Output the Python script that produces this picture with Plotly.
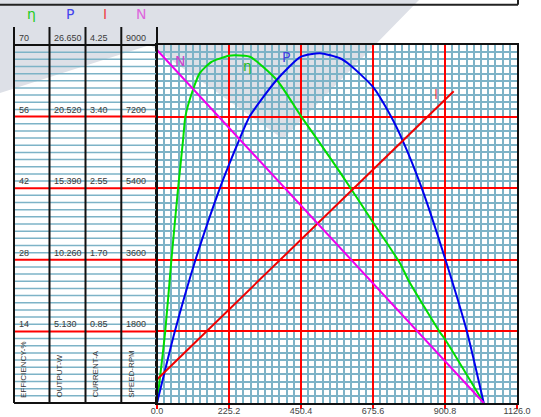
import plotly.graph_objects as go

# ---------------- data ----------------
torque_eff = [0, 25.6, 45, 66, 81.5, 89, 112.8, 133.8, 170.4, 224.6, 243.4, 290.4,
              374.1, 450.2, 546.4, 605.6, 674.9, 760.4, 786.4, 884.1, 900.4, 1022]
efficiency = [0, 13.9, 28, 42, 51.4, 56.1, 61.3, 64.5, 66.7, 67.9, 68.0, 67.7,
              63.2, 56.1, 47.5, 42.0, 35.4, 27.3, 24.0, 13.9, 12.5, 0]

torque_out = [0, 55.5, 120.3, 196.4, 224.6, 256.9, 290.4, 374.1, 450.2, 509.7,
              572.4, 603.7, 674.9, 731.1, 767.8, 828.4, 900.5, 969.5, 1022]
output_w = [0, 5.11, 10.25, 15.38, 17.05, 18.84, 20.56, 23.14, 24.81, 25.06,
            24.70, 24.22, 22.66, 20.56, 18.84, 15.38, 10.39, 5.11, 0]

torque_cur = [0, 928]
current_a = [0.28, 3.70]

torque_spd = [0, 1022]
speed_rpm = [8875, 0]

x_tick_vals = [0, 225.2, 450.4, 675.6, 900.8, 1126.0]
x_tick_text = ["0.0", "225.2", "450.4", "675.6", "900.8", "1126.0"]

eff_ticks = [14, 28, 42, 56, 70]
eff_labels = ["14", "28", "42", "56", "70"]
out_ticks = [5.13, 10.26, 15.39, 20.52, 25.65]
out_labels = ["5.130", "10.260", "15.390", "20.520", "26.650"]
cur_ticks = [0.85, 1.70, 2.55, 3.40, 4.25]
cur_labels = ["0.85", "1.70", "2.55", "3.40", "4.25"]
spd_ticks = [1800, 3600, 5400, 7200, 9000]
spd_labels = ["1800", "3600", "5400", "7200", "9000"]

column_titles = ["EFFICIENCY-%", "OUTPUT-W", "CURRENT-A", "SPEED-RPM"]
header_symbols = ["η", "P", "I", "N"]

# ---------------- styling ----------------
W, H = 541, 417
ML, MR, MT, MB = 157, 24, 45, 14
PW, PH = W - ML - MR, H - MT - MB

def px(xp):
    return (xp - ML) / PW

def py(yp):
    return (H - MB - yp) / PH

SANS = "Liberation Sans, Arial, sans-serif"
C_ETA, C_P, C_I, C_N = "#00dd00", "#0000ee", "#ee0000", "#ee00ee"
MINOR = "#7db3c7"
RED = "#ff0000"

fig = go.Figure()
fig.add_trace(go.Scatter(x=torque_eff, y=efficiency, mode="lines", yaxis="y",
                         line=dict(color=C_ETA, width=2, shape="spline", smoothing=0.6)))
fig.add_trace(go.Scatter(x=torque_out, y=output_w, mode="lines", yaxis="y2",
                         line=dict(color=C_P, width=2, shape="spline", smoothing=0.6)))
fig.add_trace(go.Scatter(x=torque_cur, y=current_a, mode="lines", yaxis="y3",
                         line=dict(color=C_I, width=2)))
fig.add_trace(go.Scatter(x=torque_spd, y=speed_rpm, mode="lines", yaxis="y4",
                         line=dict(color=C_N, width=2)))

shapes = []
# watermark
wm = [(0, 0), (419, 0), (283, 139), (150, 45), (0, 93)]
path = "M " + " L ".join(f"{px(a):.4f},{py(b):.4f}" for a, b in wm) + " Z"
shapes.append(dict(type="path", path=path, xref="paper", yref="paper",
                   fillcolor="#dde0e7", line=dict(width=0), layer="below"))

col_x = [14, 49.5, 85.5, 121.3, 157]
# left panel fine lines
k = 1
while k < 50:
    if k % 10 != 0:
        shapes.append(dict(type="line", xref="paper", yref="y", x0=px(col_x[0]), x1=0,
                           y0=k * 1.4, y1=k * 1.4, line=dict(color=MINOR, width=1.5)))
    k += 1
for v in eff_ticks[:-1]:
    shapes.append(dict(type="line", xref="paper", yref="y", x0=px(col_x[0]), x1=0,
                       y0=v, y1=v, line=dict(color=RED, width=2)))
# column lines
for cx in col_x:
    shapes.append(dict(type="line", xref="paper", yref="paper", x0=px(cx), x1=px(cx),
                       y0=0, y1=py(27), line=dict(color="#111", width=2)))
for yy in (0, 1):
    shapes.append(dict(type="line", xref="paper", yref="paper", x0=px(col_x[0]), x1=0,
                       y0=yy, y1=yy, line=dict(color="#111", width=2)))
# top box edge
shapes.append(dict(type="line", xref="paper", yref="paper", x0=px(-2), x1=px(518),
                   y0=py(4.7), y1=py(4.7), line=dict(color="#222", width=2)))
shapes.append(dict(type="line", xref="paper", yref="paper", x0=px(518), x1=px(518),
                   y0=py(-2), y1=py(4.7), line=dict(color="#222", width=2)))

ann = []
lab_font = dict(family=SANS, size=9, color="#3a3a3a")
for refy, ticks, labels, cx in (("y", eff_ticks, eff_labels, col_x[0]),
                                ("y2", out_ticks, out_labels, col_x[1]),
                                ("y3", cur_ticks, cur_labels, col_x[2]),
                                ("y4", spd_ticks, spd_labels, col_x[3])):
    for v, t in zip(ticks, labels):
        ann.append(dict(text=t, xref="paper", yref=refy, x=px(cx + 2.5), y=v,
                        xanchor="left", yanchor="bottom", yshift=0, showarrow=False,
                        font=lab_font))
for t, cx in zip(column_titles, col_x[:4]):
    ann.append(dict(text=t, xref="paper", yref="paper", x=px(cx + 9.5), y=py(400),
                    xanchor="center", yanchor="bottom", textangle=-90, showarrow=False,
                    font=dict(family=SANS, size=8, color="#333")))
for s, c, xp in zip(header_symbols, ["#22cc22", "#4444ee", "#ee4444", "#dd66dd"],
                    [31, 69.5, 105, 140.5]):
    ann.append(dict(text=s, xref="paper", yref="paper", x=px(xp), y=py(14.5),
                    xanchor="center", yanchor="middle", showarrow=False,
                    font=dict(family="DejaVu Sans, sans-serif", size=14, color=c)))
# curve labels
for s, c, xv, yv in (("N", "#cc44cc", 71, 66.9), ("η", "#22bb22", 283, 65.8),
                     ("P", "#4444dd", 403, 67.7), ("I", "#ee5555", 872, 60.4)):
    ann.append(dict(text=s, xref="x", yref="y", x=xv, y=yv, showarrow=False,
                    font=dict(family="DejaVu Sans, sans-serif", size=14, color=c)))

fig.update_layout(
    template="none",
    width=W, height=H, autosize=False,
    margin=dict(l=ML, r=MR, t=MT, b=MB, pad=0, autoexpand=False),
    paper_bgcolor="white", plot_bgcolor="rgba(0,0,0,0)",
    showlegend=False,
    xaxis=dict(range=[0, 1126], tickmode="array", tickvals=x_tick_vals, ticktext=x_tick_text,
               automargin=False,
               showgrid=True, gridcolor=RED, gridwidth=2, zeroline=False,
               minor=dict(tickmode="linear", tick0=0, dtick=22.52, showgrid=True,
                          gridcolor=MINOR, gridwidth=1.5, ticks=""),
               showline=True, mirror=True, linecolor="#111", linewidth=2,
               ticks="outside", tickcolor=RED, ticklen=4, tickwidth=2,
               ticklabelstandoff=-6,
               tickfont=dict(family=SANS, size=9, color="#444"),
               fixedrange=True),
    yaxis=dict(range=[0, 70], tickmode="linear", tick0=0, dtick=14, showticklabels=False,
               automargin=False,
               showgrid=True, gridcolor=RED, gridwidth=2, zeroline=False,
               minor=dict(tickmode="linear", tick0=0, dtick=1.4, showgrid=True,
                          gridcolor=MINOR, gridwidth=1.5, ticks=""),
               showline=True, mirror=True, linecolor="#111", linewidth=2, ticks="",
               fixedrange=True),
    yaxis2=dict(range=[0, 25.65], overlaying="y", visible=False, fixedrange=True),
    yaxis3=dict(range=[0, 4.25], overlaying="y", visible=False, fixedrange=True),
    yaxis4=dict(range=[0, 9000], overlaying="y", visible=False, fixedrange=True),
    shapes=shapes, annotations=ann,
)

fig.write_html("out.html", config=dict(displayModeBar=False),
               post_script="document.body.style.margin='0';document.body.style.overflow='hidden';")
